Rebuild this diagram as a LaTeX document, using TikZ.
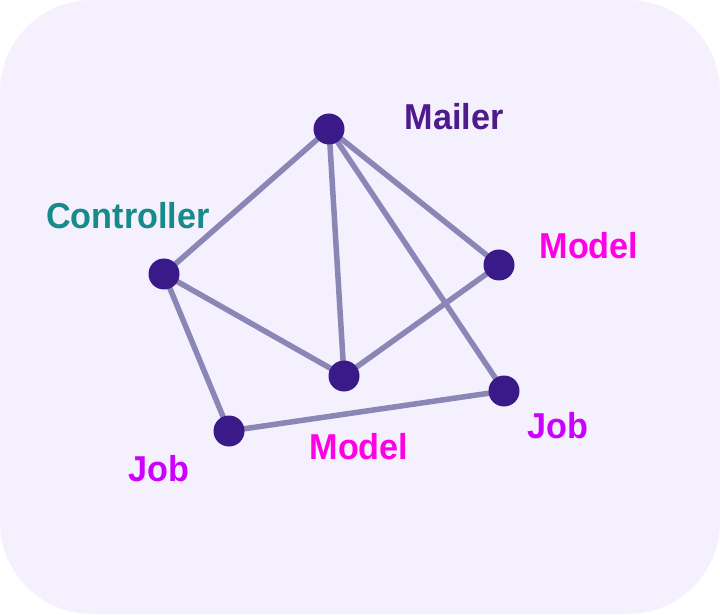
\documentclass[tikz,border=0pt]{standalone}
\usepackage{fontspec}
\setmainfont{Liberation Sans}
\definecolor{bgcol}{HTML}{F4F0FD}
\definecolor{edgecol}{HTML}{8A86B6}
\definecolor{dotcol}{HTML}{391A88}
\definecolor{mailcol}{HTML}{4E1A8C}
\definecolor{ctrlcol}{HTML}{178A8A}
\definecolor{modelcol}{HTML}{FF00E4}
\definecolor{jobcol}{HTML}{CC00FF}
\pgfdeclarelayer{backlayer}
\pgfdeclarelayer{edgelayer}
\pgfsetlayers{backlayer,edgelayer,main}
\newcommand{\lbltext}[1]{\scalebox{0.95}[1]{#1}}
\tikzset{
  dot/.style={circle, fill=dotcol, minimum size=31pt, inner sep=0pt},
  link/.style={draw=edgecol, line width=5.5pt},
  lbl/.style={anchor=base, inner sep=0pt, font=\fontsize{36}{38}\selectfont\bfseries}
}
\begin{document}
\begin{tikzpicture}[x=1pt,y=1pt]
\useasboundingbox (0,0) rectangle (720,614);
\begin{pgfonlayer}{backlayer}
\fill[bgcol, rounded corners=92pt] (0,0) rectangle (720,614);
\end{pgfonlayer}
% nodes
\node[dot] (mailer) at (329,485) {};
\node[dot] (ctrl) at (164,340) {};
\node[dot] (modelr) at (499,349) {};
\node[dot] (center) at (344,238) {};
\node[dot] (jobr) at (504,223) {};
\node[dot] (jobl) at (229,183) {};
% edges
\begin{pgfonlayer}{edgelayer}
\draw[link] (mailer.center) -- (ctrl.center);
\draw[link] (mailer.center) -- (center.center);
\draw[link] (mailer.center) -- (modelr.center);
\draw[link] (mailer.center) -- (jobr.center);
\draw[link] (ctrl.center) -- (center.center);
\draw[link] (ctrl.center) -- (jobl.center);
\draw[link] (center.center) -- (modelr.center);
\draw[link] (jobl.center) -- (jobr.center);
\end{pgfonlayer}
% labels
\node[lbl, text=mailcol] (tmailer) at (454,484) {\lbltext{Mailer}};
\node[lbl, text=ctrlcol] (tctrl) at (128,385) {\lbltext{Controller}};
\node[lbl, text=modelcol] (tmodelr) at (589,355) {\lbltext{Model}};
\node[lbl, text=jobcol] (tjobr) at (558,176) {\lbltext{Job}};
\node[lbl, text=modelcol] (tmodelb) at (359,155) {\lbltext{Model}};
\node[lbl, text=jobcol] (tjobl) at (158.5,133) {\lbltext{Job}};
\end{tikzpicture}
\end{document}
